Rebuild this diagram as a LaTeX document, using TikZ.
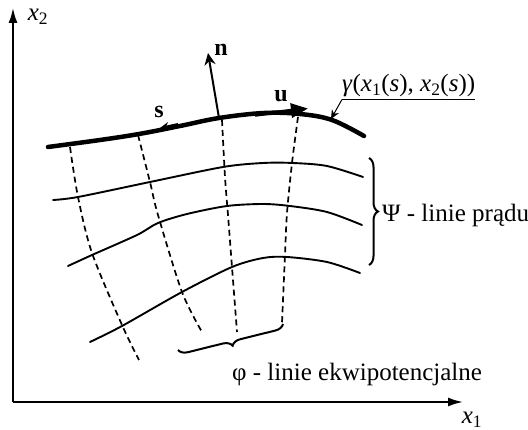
\documentclass[tikz,border=0pt]{standalone}
\usepackage{fontspec}
\setmainfont{Liberation Serif}
\usetikzlibrary{arrows.meta,decorations.pathreplacing}
\begin{document}
\begin{tikzpicture}[x=1pt,y=-1pt,
  axis/.style={line width=1.8pt,-{Latex[length=15pt,width=9pt]}},
  stream/.style={line width=1.9pt,line cap=round},
  equip/.style={line width=1.7pt,dash pattern=on 6pt off 4pt},
  lab/.style={font=\fontsize{25}{30}\selectfont,inner sep=0pt},
  boldlab/.style={font=\fontsize{24}{28}\selectfont\bfseries,inner sep=0pt},
  brc/.style={line width=2pt,decorate,decoration={brace,amplitude=9pt}}]
\useasboundingbox (0,0) rectangle (528,430);
% axes
\coordinate (O) at (13,402);
\coordinate (Y) at (13,8);
\coordinate (X) at (463,402);
\draw[axis] (O) -- (Y);
\draw[axis] (O) -- (X);
\node[lab] (x2) at (38,17) {\textit{x}\textsubscript{2}};
\node[lab] (x1) at (472,420) {\textit{x}\textsubscript{1}};
% equipotential lines
\draw[equip] plot[smooth] coordinates {(70,147) (78,197) (92,253) (122,325) (139,360)};
\draw[equip] plot[smooth] coordinates {(138,135) (150,182) (158,215) (182,292) (202,332)};
\draw[equip] plot[smooth] coordinates {(222,120) (225,177) (228,215) (232,267) (237,332)};
\draw[equip] plot[smooth] coordinates {(298,117) (292,163) (287,213) (285,255) (282,323)};
% stream lines
\draw[stream] plot[smooth] coordinates {(53,200) (78,197) (150,182) (223,167) (263,163) (293,163) (327,166) (363,177)};
\draw[stream] plot[smooth] coordinates {(68,266) (92,255) (137,235) (158,223) (187,214) (227,206) (263,204) (290,206) (327,212) (362,225)};
\draw[stream] plot[smooth] coordinates {(90,342) (122,326) (182,292) (232,267) (263,258) (287,257) (327,262) (360,273)};
% boundary gamma
\draw[line width=4.5pt,line cap=round] plot[smooth,tension=0.6] coordinates {(48,147) (100,140) (139,134) (180,126) (219,118) (264,113) (300,114) (332,120) (364,136)};
% vectors
\coordinate (nb) at (219,118);
\coordinate (nt) at (208,53);
\draw[line width=2pt,-{Stealth[length=12pt,width=11pt]}] (nb) -- (nt);
\coordinate (ub) at (255,115);
\coordinate (ut) at (308,108.5);
\draw[line width=3.5pt,-{Triangle[length=17pt,width=14pt]}] (ub) -- (ut);
\coordinate (sb) at (178,124);
\coordinate (st) at (160,128);
\draw[line width=2pt,-{Stealth[length=9pt,width=8pt]}] (sb) -- (st);
\node[boldlab] (n) at (221,50) {n};
\node[boldlab] (u) at (281,96) {u};
\node[boldlab] (s) at (159,112) {s};
% gamma label
\node[lab,anchor=base west,inner ysep=2pt] (g) at (342,92) {\textit{γ}(\textit{x}\textsubscript{1}(\textit{s}), \textit{x}\textsubscript{2}(\textit{s}))};
\draw[line width=0.8pt] (g.south west) -- (g.south east);
\coordinate (gp) at (331,119);
\draw[line width=1pt,-{Stealth[length=9pt,width=8pt]}] (g.south west) -- (gp);
% braces
\coordinate (b1a) at (369,158);
\coordinate (b1b) at (369,265);
\draw[brc] (b1a) -- (b1b);
\coordinate (b2a) at (283,324);
\coordinate (b2b) at (178,350);
\draw[brc] (b2a) -- (b2b);
\node[lab,anchor=base west] (psi) at (382,222) {Ψ - linie prądu};
\node[lab,anchor=base west] (phi) at (232,381) {φ - linie ekwipotencjalne};
\end{tikzpicture}
\end{document}
